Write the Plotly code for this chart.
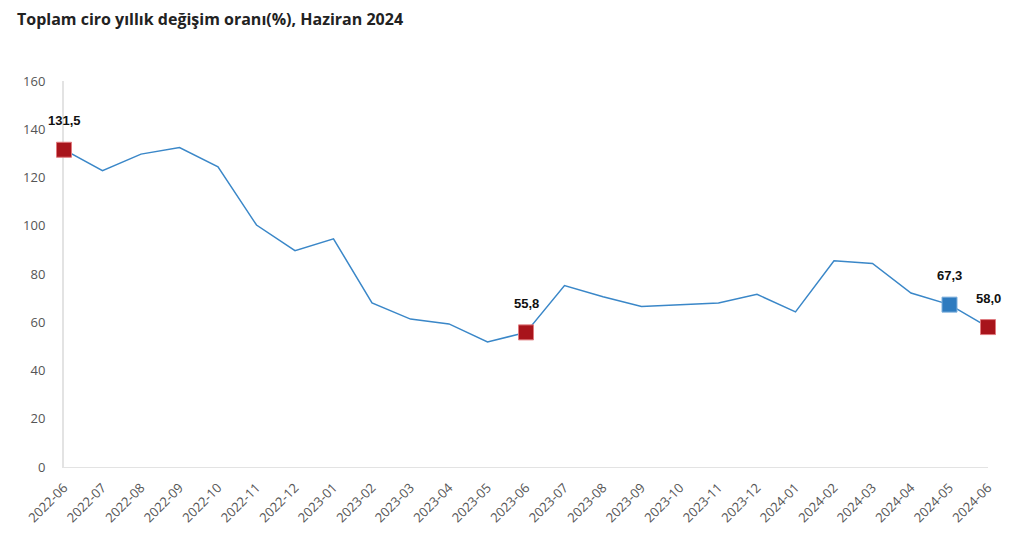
import plotly.graph_objects as go

months = ["2022-06","2022-07","2022-08","2022-09","2022-10","2022-11","2022-12",
          "2023-01","2023-02","2023-03","2023-04","2023-05","2023-06","2023-07",
          "2023-08","2023-09","2023-10","2023-11","2023-12","2024-01","2024-02",
          "2024-03","2024-04","2024-05","2024-06"]
values = [131.5,122.8,129.7,132.4,124.4,100.3,89.7,94.6,68.0,61.3,59.3,51.8,55.8,
          75.2,70.6,66.5,67.3,68.0,71.6,64.3,85.5,84.4,72.1,67.3,58.0]

red_months = ["2022-06","2023-06","2024-06"]
blue_months = ["2024-05"]
label_months = ["2022-06","2023-06","2024-05","2024-06"]
y_ticks = [0,20,40,60,80,100,120,140,160]

LINE = "#3a87c8"
RED = "#a8141b"
BLUE = "#2e7bbf"

vmap = dict(zip(months, values))

fig = go.Figure()
fig.add_trace(go.Scatter(x=months, y=values, mode="lines",
                         line=dict(color=LINE, width=1.5), hoverinfo="x+y",
                         cliponaxis=False, showlegend=False))
fig.add_trace(go.Scatter(x=red_months, y=[vmap[m] for m in red_months], mode="markers",
                         marker=dict(symbol="square", size=15, color=RED,
                                     line=dict(color="#e07a7e", width=1)),
                         cliponaxis=False, showlegend=False))
fig.add_trace(go.Scatter(x=blue_months, y=[vmap[m] for m in blue_months], mode="markers",
                         marker=dict(symbol="square", size=15, color=BLUE,
                                     line=dict(color="#7fb0dc", width=1)),
                         cliponaxis=False, showlegend=False))

for m in label_months:
    fig.add_annotation(x=m, y=vmap[m], text=f"{vmap[m]:.1f}".replace(".", ","),
                       showarrow=False, yshift=29,
                       font=dict(family="Liberation Sans, Arial", size=13, color="#111111",
                                 weight="bold"))

fig.update_layout(
    width=1029, height=551,
    margin=dict(l=64, r=41, t=81, b=84),
    paper_bgcolor="white", plot_bgcolor="white",
    title=dict(text="<b>Toplam ciro yıllık değişim oranı(%), Haziran 2024</b>",
               x=0.0165, xanchor="left", y=0.965, yanchor="middle",
               font=dict(family="Open Sans", size=16, color="#222222")),
)
fig.update_xaxes(type="category", range=[0, len(months) - 1], tickangle=-45,
                 showgrid=False, showline=True, linecolor="#e3e3e3", linewidth=1,
                 ticks="", tickfont=dict(family="Open Sans", size=13, color="#555555"),
                 zeroline=False, layer="below traces", ticklabelstandoff=7)
fig.update_yaxes(range=[0, 160], tickvals=y_ticks, showgrid=False, showline=True,
                 linecolor="#e3e3e3", linewidth=2, ticks="", zeroline=False,
                 tickfont=dict(family="Open Sans", size=13, color="#555555"),
                 ticklabelstandoff=14, layer="below traces")

fig.write_html("out.html")
